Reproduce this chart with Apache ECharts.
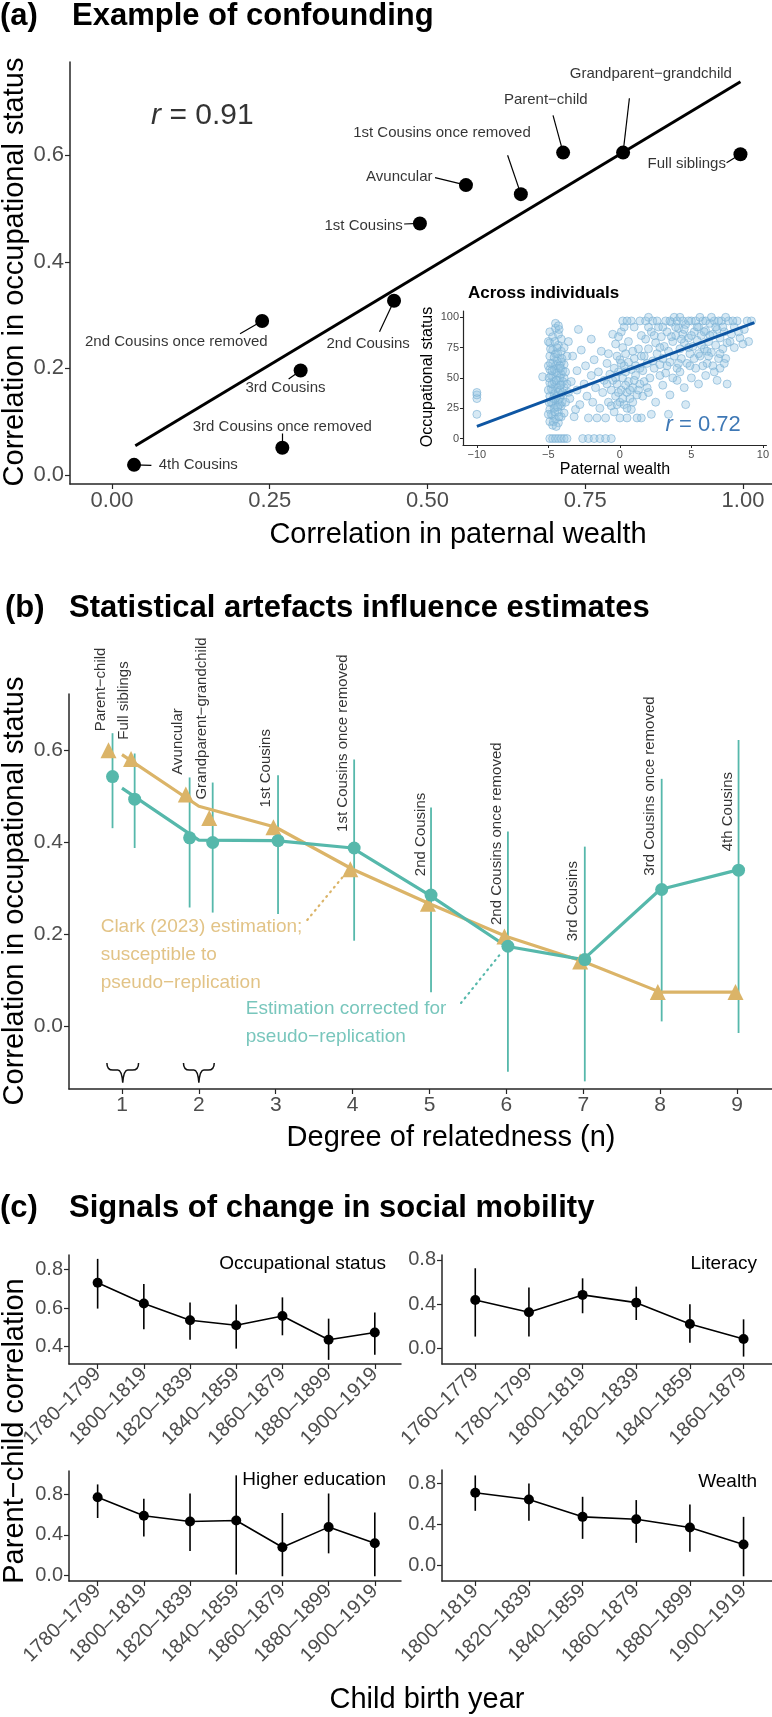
<!DOCTYPE html>
<html>
<head>
<meta charset="utf-8">
<script src="https://cdn.jsdelivr.net/npm/echarts@6/dist/echarts.min.js"></script>
<style>
  html, body { margin: 0; padding: 0; background: #fff; }
  #chart { width: 772px; height: 1717px; }
</style>
</head>
<body>
<div id="chart"></div>
<script>
// ---------- (a) confounding ----------
const relNames = ["Parent−child", "Full siblings", "Grandparent−grandchild", "Avuncular", "1st Cousins",
  "1st Cousins once removed", "2nd Cousins", "2nd Cousins once removed", "3rd Cousins",
  "3rd Cousins once removed", "4th Cousins"];
const wealthCorr = [0.715, 0.996, 0.810, 0.561, 0.488, 0.648, 0.447, 0.238, 0.299, 0.270, 0.035];
const occCorr = [0.605, 0.602, 0.605, 0.544, 0.472, 0.527, 0.327, 0.289, 0.196, 0.051, 0.019];
const fitEnds = [[0.037, 0.055], [0.996, 0.738]];
// where each name sits (data units) and where its leader starts
const labelAt = [[0.6875, 0.704], [0.973, 0.583], [0.854, 0.752], [0.508, 0.560], [0.461, 0.468],
  [0.523, 0.642], [0.406, 0.247], [0.102, 0.249], [0.275, 0.163], [0.270, 0.091], [0.074, 0.019]];
const labelAlign = ["center", "right", "center", "right", "right", "center", "center", "center", "center", "center", "left"];
const leaderFrom = [[0.699, 0.675], [0.974, 0.586], [0.820, 0.707], [0.512, 0.558], [0.463, 0.471],
  [0.627, 0.600], [0.424, 0.269], [0.203, 0.265], [0.280, 0.180], [0.270, 0.078], [0.0625, 0.018]];

// inset: individuals (paternal wealth, occupational status)
const indivPoints = [
  [-10, 20], [-10, 33], [-10, 36], [-10, 38], [-5.4, 51],
  [-4.9, 0], [-4.7, 0], [-4.5, 0], [-4.3, 0], [-4.1, 0], [-3.9, 0], [-3.7, 0], [-2.6, 0], [-2.2, 0], [-1.8, 0], [-1.4, 0], [-1.0, 0], [-0.6, 0],
  [-4.9, 14], [-4.9, 24], [-4.9, 35], [-4.9, 46], [-4.9, 57], [-4.9, 68], [-4.9, 79], [-4.9, 88],
  [-4.7, 11], [-4.7, 19], [-4.7, 29], [-4.7, 40], [-4.7, 51], [-4.7, 62], [-4.7, 73], [-4.7, 84],
  [-4.5, 16], [-4.5, 26], [-4.5, 33], [-4.5, 44], [-4.5, 55], [-4.5, 60], [-4.5, 70], [-4.5, 91],
  [-4.3, 13], [-4.3, 22], [-4.3, 31], [-4.3, 38], [-4.3, 48], [-4.3, 58], [-4.3, 66], [-4.3, 77], [-4.3, 86],
  [-4.1, 18], [-4.1, 27], [-4.1, 36], [-4.1, 45], [-4.1, 53], [-4.1, 63], [-4.1, 72], [-4.1, 82],
  [-3.9, 21], [-3.9, 42], [-3.9, 50], [-3.9, 61], [-3.9, 75],
  [-4.8, 30], [-4.6, 37], [-4.4, 42], [-4.2, 50], [-4.8, 52], [-4.6, 47], [-4.4, 35], [-4.2, 28], [-4.8, 41], [-4.4, 64],
  [-4.6, 57], [-4.2, 40], [-4.8, 20], [-4.6, 25], [-4.4, 54], [-4.2, 60], [-4.6, 67], [-4.4, 75], [-4.2, 33], [-4.0, 38],
  [-4.0, 56], [-4.0, 47],
  [-5.0, 20], [-5.0, 40], [-5.0, 60], [-5.0, 80], [-4.95, 30], [-4.85, 62], [-4.75, 45], [-4.65, 33], [-4.55, 22], [-4.45, 48],
  [-4.35, 70], [-4.25, 18], [-4.15, 58], [-4.05, 30], [-4.85, 74], [-4.55, 80], [-4.25, 90], [-4.75, 56], [-4.35, 26], [-4.15, 44],
  [-4.65, 14], [-4.45, 10], [-4.95, 50], [-4.05, 66], [-4.5, 95], [-4.3, 93],
  [-3.8, 30], [-3.8, 55], [-3.7, 45], [-3.7, 68], [-3.6, 38],
  [-3.6, 80], [-3.5, 33], [-3.4, 47], [-3.3, 68], [-3.2, 18], [-3.1, 24], [-3.0, 40], [-3.0, 56], [-2.9, 90], [-2.8, 28],
  [-2.7, 73], [-2.5, 45], [-2.4, 60], [-2.3, 35], [-2.2, 17], [-2.0, 52], [-2.0, 82], [-1.9, 30], [-1.8, 65], [-1.7, 42],
  [-1.6, 17], [-1.5, 55], [-1.4, 25], [-1.3, 72], [-1.2, 38], [-1.1, 48], [-1.0, 17], [-0.9, 62], [-0.8, 30], [-0.7, 53],
  [-0.6, 40], [-0.5, 86], [-0.4, 22],
  [-0.3, 35], [-0.2, 45], [-0.1, 55], [0.0, 30], [0.0, 65], [0.1, 40], [0.2, 50], [0.3, 28], [0.3, 60], [0.4, 70],
  [0.5, 38], [0.6, 47], [0.7, 33], [0.8, 57], [0.9, 42], [1.0, 66], [1.1, 52], [1.2, 36], [1.3, 74], [0.2, 75],
  [-0.2, 68], [0.5, 17], [0.0, 17], [1.5, 17], [0.8, 24], [-0.5, 48], [1.4, 45], [0.6, 80], [0.1, 88], [-0.3, 78],
  [0.3, 92], [-0.1, 84], [1.2, 17],
  [-0.9, 45], [-0.8, 70], [-0.6, 27], [-0.4, 58], [-0.3, 50], [-0.1, 38], [0.1, 62], [0.2, 33], [0.4, 44], [0.4, 55],
  [0.6, 63], [0.7, 40], [0.9, 30], [1.0, 48], [1.1, 60], [1.3, 40], [1.4, 58], [1.6, 35], [1.7, 47], [1.9, 42],
  [0.5, 25], [-0.2, 28], [0.9, 72], [1.5, 68],
  [1.6, 56], [1.7, 68], [1.8, 82], [1.9, 62], [2.0, 74], [2.1, 50], [2.2, 88], [2.3, 64], [2.4, 58], [2.5, 79],
  [2.6, 70], [2.7, 92], [2.8, 61], [2.9, 84], [3.0, 66], [3.1, 76], [3.2, 54], [3.3, 88], [3.4, 72], [3.5, 63],
  [3.6, 96], [3.7, 80], [3.8, 68], [3.9, 85], [4.0, 58], [4.1, 91], [4.2, 74], [4.3, 66], [4.4, 86], [4.5, 79],
  [4.6, 94], [4.7, 62], [4.8, 83], [4.9, 70], [5.0, 97], [5.1, 76], [5.2, 88], [5.3, 58], [5.4, 81], [5.5, 92],
  [5.6, 68], [5.7, 85], [5.8, 97], [5.9, 74], [6.0, 89], [6.1, 62], [6.2, 80], [6.3, 95], [6.4, 71], [6.5, 86],
  [6.6, 97], [6.7, 77], [6.8, 90], [6.9, 66], [7.0, 83], [7.1, 97], [7.2, 74], [7.3, 88], [7.5, 79], [7.6, 97],
  [7.8, 86], [8.0, 92], [8.2, 97], [8.4, 83], [8.7, 90], [9.0, 80], [9.2, 97],
  [1.5, 85], [2.0, 92], [2.4, 85], [2.8, 75], [3.0, 92], [3.3, 60], [3.6, 84], [3.9, 92], [4.1, 62], [4.3, 82],
  [4.5, 90], [4.8, 75], [5.0, 85], [5.2, 66], [5.4, 92], [5.7, 77], [5.9, 88], [6.1, 72], [6.3, 85], [6.5, 60],
  [6.7, 92], [7.0, 70], [7.2, 92], [7.4, 66], [7.7, 80], [8.0, 75], [8.3, 88], [8.6, 78], [8.9, 97],
  [0.2, 97], [0.8, 97], [1.4, 97], [1.8, 97], [2.0, 100], [2.3, 97], [2.6, 97], [3.2, 97], [3.5, 97], [3.8, 100],
  [4.0, 97], [4.2, 100], [4.4, 97], [4.8, 97], [5.3, 97], [5.6, 100], [6.0, 97], [6.4, 100], [6.9, 97], [7.4, 100],
  [7.9, 97], [0.5, 97], [1.0, 92],
  [2.0, 38], [2.5, 30], [3.0, 44], [3.5, 36], [4.0, 48], [4.5, 42], [5.0, 50], [2.2, 20], [3.4, 20], [4.6, 28],
  [5.5, 45], [6.0, 52], [7.0, 58], [7.5, 45], [6.8, 48], [2.8, 52], [3.7, 50], [4.2, 55], [5.8, 60], [6.6, 55],
  [7.3, 62], [4.9, 60], [5.5, 70], [6.2, 68]
];
const indivFit = [[-10, 10], [9.4, 95.6]];

// ---------- (b) statistical artefacts ----------
const bNames = ["Parent−child", "Full siblings", "Avuncular", "Grandparent−grandchild", "1st Cousins",
  "1st Cousins once removed", "2nd Cousins", "2nd Cousins once removed", "3rd Cousins",
  "3rd Cousins once removed", "4th Cousins"];
const tealX = [0.877, 1.165, 1.88, 2.18, 3.03, 4.02, 5.02, 6.02, 7.02, 8.02, 9.02];
const tealY = [0.542, 0.493, 0.409, 0.399, 0.403, 0.387, 0.285, 0.174, 0.145, 0.297, 0.339];
const tealLo = [0.430, 0.387, 0.258, 0.247, 0.244, 0.186, 0.074, -0.098, -0.119, 0.011, -0.014];
const tealHi = [0.636, 0.592, 0.540, 0.529, 0.545, 0.579, 0.475, 0.423, 0.390, 0.537, 0.621];
const clarkX = [0.825, 1.118, 1.83, 2.135, 2.97, 3.97, 4.98, 5.975, 6.96, 7.97, 8.98];
const clarkY = [0.599, 0.580, 0.503, 0.452, 0.432, 0.341, 0.266, 0.195, 0.141, 0.0745, 0.0745];
const degree = [1, 2, 3, 4, 5, 6, 7, 8, 9];
const tealMean = [0.517, 0.404, 0.403, 0.387, 0.285, 0.174, 0.145, 0.297, 0.339];
const clarkMean = [0.5895, 0.4775, 0.432, 0.341, 0.266, 0.195, 0.141, 0.0745, 0.0745];
const nameY = [0.640, 0.622, 0.546, 0.492, 0.475, 0.422, 0.326, 0.220, 0.185, 0.327, 0.380];
const braceSpans = [[0.804, 1.216, -0.079, -0.122], [1.80, 2.20, -0.079, -0.122]];

// ---------- (c) signals of change ----------
const occPeriods = ["1780–1799", "1800–1819", "1820–1839", "1840–1859", "1860–1879", "1880–1899", "1900–1919"];
const occY = [0.731, 0.623, 0.537, 0.511, 0.559, 0.436, 0.473];
const occLo = [0.597, 0.490, 0.436, 0.390, 0.459, 0.332, 0.358];
const occHi = [0.854, 0.724, 0.629, 0.618, 0.655, 0.545, 0.577];

const litPeriods = ["1760–1779", "1780–1799", "1800–1819", "1820–1839", "1840–1859", "1860–1879"];
const litY = [0.437, 0.326, 0.483, 0.413, 0.220, 0.084];
const litLo = [0.106, 0.106, 0.317, 0.256, 0.051, -0.075];
const litHi = [0.724, 0.549, 0.633, 0.558, 0.398, 0.262];

const eduPeriods = occPeriods;
const eduY = [0.773, 0.590, 0.533, 0.543, 0.277, 0.477, 0.317];
const eduLo = [0.567, 0.383, 0.240, 0.007, -0.010, 0.217, -0.010];
const eduHi = [0.900, 0.757, 0.810, 0.990, 0.617, 0.810, 0.623];

const wPeriods = ["1800–1819", "1820–1839", "1840–1859", "1860–1879", "1880–1899", "1900–1919"];
const wY = [0.708, 0.643, 0.473, 0.450, 0.369, 0.202];
const wLo = [0.532, 0.434, 0.258, 0.219, 0.131, -0.108];
const wHi = [0.878, 0.800, 0.669, 0.637, 0.594, 0.473];

// ---------- styling ----------
const FONT = "'Liberation Sans', Arial, Helvetica, sans-serif";
const AXC = "#262626";
const TICKC = "#4d4d4d";
const TEAL = "#56b8ab";
const GOLD = "#dbb468";
const BLUE = "#0e56a3";

const zip = (xs, ys) => xs.map((x, i) => [x, ys[i]]);
const idx = arr => arr.map((_, i) => i + 1);

function valAxis(gi, min, max, ticks, fmt, fs, extra) {
  return Object.assign({
    type: "value", gridIndex: gi, min: min, max: max,
    axisLine: { show: true, onZero: false, lineStyle: { color: AXC, width: 1.5 } },
    axisTick: { show: true, customValues: ticks, length: 5, lineStyle: { color: AXC, width: 1.2 } },
    axisLabel: { customValues: ticks, formatter: fmt, fontSize: fs, color: TICKC, margin: 6, fontFamily: FONT },
    splitLine: { show: false }
  }, extra || {});
}
const f1 = v => v.toFixed(1);
const minusFmt = v => (v < 0 ? "−" + Math.abs(v) : String(v));

function errBars(xi, yi, color, w, xs, lo, hi) {
  return {
    type: "custom", xAxisIndex: xi, yAxisIndex: yi, silent: true, z: 2,
    data: xs.map((x, i) => [x, lo[i], hi[i]]),
    encode: { x: 0, y: [1, 2] },
    renderItem: (params, api) => {
      const a = api.coord([api.value(0), api.value(1)]);
      const b = api.coord([api.value(0), api.value(2)]);
      return { type: "line", shape: { x1: a[0], y1: a[1], x2: b[0], y2: b[1] },
        style: { stroke: color, lineWidth: w } };
    }
  };
}
function textMarks(xi, yi, items, lab) {
  return {
    type: "scatter", xAxisIndex: xi, yAxisIndex: yi, silent: true, z: 6,
    symbolSize: 1, itemStyle: { color: "rgba(0,0,0,0)" },
    data: items,
    label: Object.assign({ show: true, position: "inside", fontFamily: FONT, color: "#000" }, lab)
  };
}
function facet(gi, periods, ys, lo, hi) {
  return [
    errBars(gi, gi, "#000", 1.6, idx(periods), lo, hi),
    { type: "line", xAxisIndex: gi, yAxisIndex: gi, data: zip(idx(periods), ys), z: 3,
      symbol: "circle", symbolSize: 10, showSymbol: true,
      itemStyle: { color: "#000", opacity: 1 }, lineStyle: { color: "#000", width: 1.6 } }
  ];
}
function periodAxis(gi, periods, max) {
  return valAxis(gi, 0.38, max, idx(periods), v => periods[v - 1], 20,
    { axisLabel: { customValues: idx(periods), formatter: v => periods[v - 1], fontSize: 20, color: TICKC,
      rotate: 45, margin: 7, fontFamily: FONT } });
}

function gtext(x, y, s, fs, opt) {
  const o = opt || {};
  return {
    type: "text", x: x, y: y, rotation: o.rot || 0, silent: true,
    style: { text: s, fontSize: fs, fontFamily: FONT, fontWeight: o.bold ? "bold" : "normal",
      fill: o.color || "#000", align: o.align || "left", verticalAlign: "middle" }
  };
}

const chart = echarts.init(document.getElementById("chart"));
chart.setOption({
  animation: false,
  backgroundColor: "#fff",
  textStyle: { fontFamily: FONT },
  grid: [
    { left: 70, top: 62, width: 702, height: 422 },
    { left: 463, top: 311, width: 305, height: 134 },
    { left: 69, top: 694, width: 703, height: 395 },
    { left: 69, top: 1255, width: 332, height: 109 },
    { left: 442, top: 1255, width: 330, height: 109 },
    { left: 69, top: 1471, width: 332, height: 110 },
    { left: 442, top: 1470, width: 330, height: 111 }
  ],
  xAxis: [
    valAxis(0, -0.0665, 1.046, [0, 0.25, 0.5, 0.75, 1], v => v.toFixed(2), 22, null),
    valAxis(1, -10.97, 10.25, [-10, -5, 0, 5, 10], minusFmt, 11,
      { axisLine: { show: true, onZero: false, lineStyle: { color: AXC, width: 1.2 } },
        axisTick: { show: true, customValues: [-10, -5, 0, 5, 10], length: 3, lineStyle: { color: AXC } },
        axisLabel: { customValues: [-10, -5, 0, 5, 10], formatter: minusFmt, fontSize: 11, color: TICKC, margin: 4 } }),
    valAxis(2, 0.311, 9.455, degree, v => String(v), 21, null),
    periodAxis(3, occPeriods, 7.567),
    periodAxis(4, litPeriods, 6.53),
    periodAxis(5, eduPeriods, 7.567),
    periodAxis(6, wPeriods, 6.53)
  ],
  yAxis: [
    valAxis(0, -0.0169, 0.775, [0, 0.2, 0.4, 0.6], f1, 22, null),
    valAxis(1, -5.3, 105.2, [0, 25, 50, 75, 100], v => String(v), 11,
      { axisLine: { show: true, onZero: false, lineStyle: { color: AXC, width: 1.2 } },
        axisTick: { show: true, customValues: [0, 25, 50, 75, 100], length: 3, lineStyle: { color: AXC } },
        axisLabel: { customValues: [0, 25, 50, 75, 100], fontSize: 11, color: TICKC, margin: 4 } }),
    valAxis(2, -0.1356, 0.721, [0, 0.2, 0.4, 0.6], f1, 21, null),
    valAxis(3, 0.3106, 0.874, [0.4, 0.6, 0.8], f1, 20, null),
    valAxis(4, -0.142, 0.844, [0, 0.4, 0.8], f1, 20, null),
    valAxis(5, -0.057, 1.033, [0, 0.4, 0.8], f1, 20, null),
    valAxis(6, -0.154, 0.931, [0, 0.4, 0.8], f1, 20, null)
  ],
  graphic: [
    gtext(0, 16, "(a)", 31, { bold: true }),
    gtext(72, 16, "Example of confounding", 31, { bold: true }),
    gtext(15, 272, "Correlation in occupational status", 29, { rot: Math.PI / 2, align: "center" }),
    gtext(458, 535, "Correlation in paternal wealth", 29, { align: "center" }),
    gtext(468, 293, "Across individuals", 17, { bold: true }),
    gtext(428, 377, "Occupational status", 16, { rot: Math.PI / 2, align: "center" }),
    gtext(615, 470, "Paternal wealth", 16, { align: "center" }),

    gtext(5, 608, "(b)", 31, { bold: true }),
    gtext(69, 608, "Statistical artefacts influence estimates", 31, { bold: true }),
    gtext(15, 891, "Correlation in occupational status", 29, { rot: Math.PI / 2, align: "center" }),
    gtext(451, 1138, "Degree of relatedness (n)", 29, { align: "center" }),

    gtext(0, 1208, "(c)", 31, { bold: true }),
    gtext(69, 1208, "Signals of change in social mobility", 31, { bold: true }),
    gtext(15, 1431, "Parent−child correlation", 29, { rot: Math.PI / 2, align: "center" }),
    gtext(427, 1700, "Child birth year", 29, { align: "center" }),
    gtext(386, 1264, "Occupational status", 19, { align: "right" }),
    gtext(757, 1264, "Literacy", 19, { align: "right" }),
    gtext(386, 1480, "Higher education", 19, { align: "right" }),
    gtext(757, 1482, "Wealth", 19, { align: "right" })
  ],
  series: [
    // ---- (a)
    { type: "line", xAxisIndex: 0, yAxisIndex: 0, data: fitEnds, symbol: "none", z: 2,
      lineStyle: { color: "#000", width: 3 } },
    { type: "lines", coordinateSystem: "cartesian2d", xAxisIndex: 0, yAxisIndex: 0, silent: true, z: 3,
      data: leaderFrom.map((p, i) => ({ coords: [p, [wealthCorr[i], occCorr[i]]] })),
      lineStyle: { color: "#000", width: 1.2, opacity: 1 } },
    { type: "scatter", xAxisIndex: 0, yAxisIndex: 0, data: zip(wealthCorr, occCorr), z: 4,
      symbolSize: 14, itemStyle: { color: "#000", opacity: 1 } },
    textMarks(0, 0, relNames.map((n, i) => ({ value: labelAt[i], name: n, label: { align: labelAlign[i] } })),
      { formatter: p => p.name, fontSize: 15, verticalAlign: "middle" }),
    textMarks(0, 0, [{ value: [0.062, 0.675] }],
      { formatter: "{i|r} = 0.91", fontSize: 30, align: "left", verticalAlign: "middle",
        rich: { i: { fontStyle: "italic", fontSize: 30, fontFamily: FONT } } }),

    // ---- inset
    { type: "scatter", xAxisIndex: 1, yAxisIndex: 1, data: indivPoints, z: 2, symbolSize: 8,
      itemStyle: { color: "rgba(150,196,225,0.38)", borderColor: "rgba(120,175,212,0.6)", borderWidth: 1, opacity: 1 } },
    { type: "line", xAxisIndex: 1, yAxisIndex: 1, data: indivFit, symbol: "none", z: 3,
      lineStyle: { color: BLUE, width: 3 } },
    textMarks(1, 1, [{ value: [3.19, 11] }],
      { formatter: "{i|r} = 0.72", fontSize: 22, color: BLUE, align: "left", verticalAlign: "middle",
        rich: { i: { fontStyle: "italic", fontSize: 22, color: BLUE, fontFamily: FONT } } }),

    // ---- (b)
    errBars(2, 2, TEAL, 1.8, tealX, tealLo, tealHi),
    { type: "line", xAxisIndex: 2, yAxisIndex: 2, data: zip(degree, clarkMean), symbol: "none", z: 3,
      lineStyle: { color: GOLD, width: 3.2 } },
    { type: "line", xAxisIndex: 2, yAxisIndex: 2, data: zip(degree, tealMean), symbol: "none", z: 3,
      lineStyle: { color: TEAL, width: 3.2 } },
    { type: "scatter", xAxisIndex: 2, yAxisIndex: 2, data: zip(clarkX, clarkY), z: 4,
      symbol: "triangle", symbolSize: 16, itemStyle: { color: GOLD, opacity: 1 } },
    { type: "scatter", xAxisIndex: 2, yAxisIndex: 2, data: zip(tealX, tealY), z: 5,
      symbolSize: 13, itemStyle: { color: TEAL, opacity: 1 } },
    textMarks(2, 2, bNames.map((n, i) => ({ value: [clarkX[i], nameY[i]], name: n })),
      { formatter: p => p.name, fontSize: 15, rotate: 90, align: "left", verticalAlign: "bottom" }),
    { type: "lines", coordinateSystem: "cartesian2d", xAxisIndex: 2, yAxisIndex: 2, silent: true, z: 3,
      data: [
        { coords: [[3.41, 0.231], [3.93, 0.336]], lineStyle: { color: GOLD } },
        { coords: [[5.41, 0.051], [5.93, 0.159]], lineStyle: { color: TEAL } }
      ],
      lineStyle: { width: 2.2, type: [1, 5], cap: "round", opacity: 1 } },
    textMarks(2, 2, [
      { value: [0.723, 0.247], name: "Clark (2023) estimation;\nsusceptible to\npseudo−replication",
        label: { color: GOLD } },
      { value: [2.61, 0.0687], name: "Estimation corrected for\npseudo−replication",
        label: { color: TEAL } }
    ], { formatter: p => p.name, fontSize: 19, lineHeight: 28, align: "left", verticalAlign: "top" }),
    { type: "custom", xAxisIndex: 2, yAxisIndex: 2, silent: true, z: 3, data: braceSpans,
      encode: { x: [0, 1], y: [2, 3] },
      renderItem: (params, api) => {
        const a = api.coord([api.value(0), api.value(2)]);
        const b = api.coord([api.value(1), api.value(2)]);
        const t = api.coord([(api.value(0) + api.value(1)) / 2, api.value(3)]);
        const L = a[0], R = b[0], T = a[1], B = t[1], C = t[0], M = T + (B - T) * 0.36, r = 6;
        const d = `M${L},${T} Q${L},${M} ${L + r},${M} L${C - 5},${M} Q${C - 1},${M} ${C},${B} ` +
          `Q${C + 1},${M} ${C + 5},${M} L${R - r},${M} Q${R},${M} ${R},${T}`;
        return { type: "path", shape: { pathData: d }, style: { fill: "none", stroke: "#111", lineWidth: 1.5 } };
      } },

    // ---- (c)
    ...facet(3, occPeriods, occY, occLo, occHi),
    ...facet(4, litPeriods, litY, litLo, litHi),
    ...facet(5, eduPeriods, eduY, eduLo, eduHi),
    ...facet(6, wPeriods, wY, wLo, wHi)
  ]
});
</script>
</body>
</html>
